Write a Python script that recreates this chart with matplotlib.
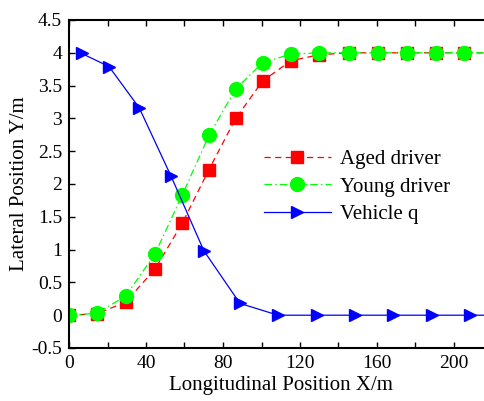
import matplotlib.pyplot as plt
from matplotlib.ticker import MultipleLocator

plt.rcParams['font.family'] = ['Liberation Serif', 'DejaVu Serif']

# Aged / young driver trajectories (marker points)
x_driver = [0, 14.5, 29.4, 44.6, 58.8, 72.7, 86.6, 100.6, 115.3, 130.0, 145.3, 160.4, 175.4, 190.5, 205.2]
y_aged = [0, 0.02, 0.20, 0.70, 1.40, 2.22, 3.00, 3.57, 3.88, 3.97, 4.0, 4.0, 4.0, 4.0, 4.0]
y_young = [0, 0.03, 0.29, 0.93, 1.83, 2.74, 3.45, 3.85, 3.98, 4.0, 4.0, 4.0, 4.0, 4.0, 4.0]

# Vehicle q trajectory (marker points)
x_vehicle = [6.6, 20.8, 36.5, 53.0, 70.1, 88.8, 108.6, 128.7, 148.6, 168.5, 188.4, 208.3]
y_vehicle = [3.99, 3.79, 3.16, 2.12, 0.98, 0.18, 0, 0, 0, 0, 0, 0]

# curves run on to the right edge of the axes
x_end = 220
y_end_driver = 4.0
y_end_vehicle = 0

fig = plt.figure(figsize=(4.84, 4.01), dpi=100)
ax = fig.add_axes([69/484, 1-348/401, (69+220*1.925)/484 - 69/484, (348-20)/401])

n = len(x_driver)
ax.plot(x_driver + [x_end], y_aged + [y_end_driver], color='red', ls=(0, (5, 3.5)), lw=0.9,
        marker='s', ms=8.5, markevery=list(range(n)), label='Aged driver')
ax.plot(x_driver + [x_end], y_young + [y_end_driver], color='#00ff00', ls=(0, (6, 2.5, 1.2, 2.5)), lw=0.9,
        marker='o', ms=10, markevery=list(range(n)), label='Young driver')
m = len(x_vehicle)
ax.plot(x_vehicle + [x_end], y_vehicle + [y_end_vehicle], color='blue', ls='-', lw=0.9,
        marker='>', ms=9, markevery=list(range(m)), label='Vehicle q')

ax.set_xlim(0, x_end)
ax.set_ylim(-0.5, 4.5)
ax.xaxis.set_major_locator(MultipleLocator(40))
ax.xaxis.set_minor_locator(MultipleLocator(20))
ax.set_yticks([-0.5, 0, 0.5, 1, 1.5, 2, 2.5, 3, 3.5, 4, 4.5])
ax.set_yticklabels(['-0.5', '0', '0.5', '1', '1.5', '2', '2.5', '3', '3.5', '4', '4.5'])
ax.tick_params(which='both', direction='in', top=True, right=True, length=4, width=1, labelsize=14, pad=5)
for s in ax.spines.values():
    s.set_linewidth(1.5)

ax.set_xlabel('Longitudinal Position X/m', fontsize=15, labelpad=3)
ax.set_ylabel('Lateral Position Y/m', fontsize=15, labelpad=2)

ax.legend(loc='center left', bbox_to_anchor=(264/484, 1-187/401), bbox_transform=fig.transFigure,
          frameon=False, fontsize=15, handlelength=3.2, handletextpad=0.45, labelspacing=0.38,
          borderpad=0, borderaxespad=0)

plt.savefig('out.png', dpi=100)
